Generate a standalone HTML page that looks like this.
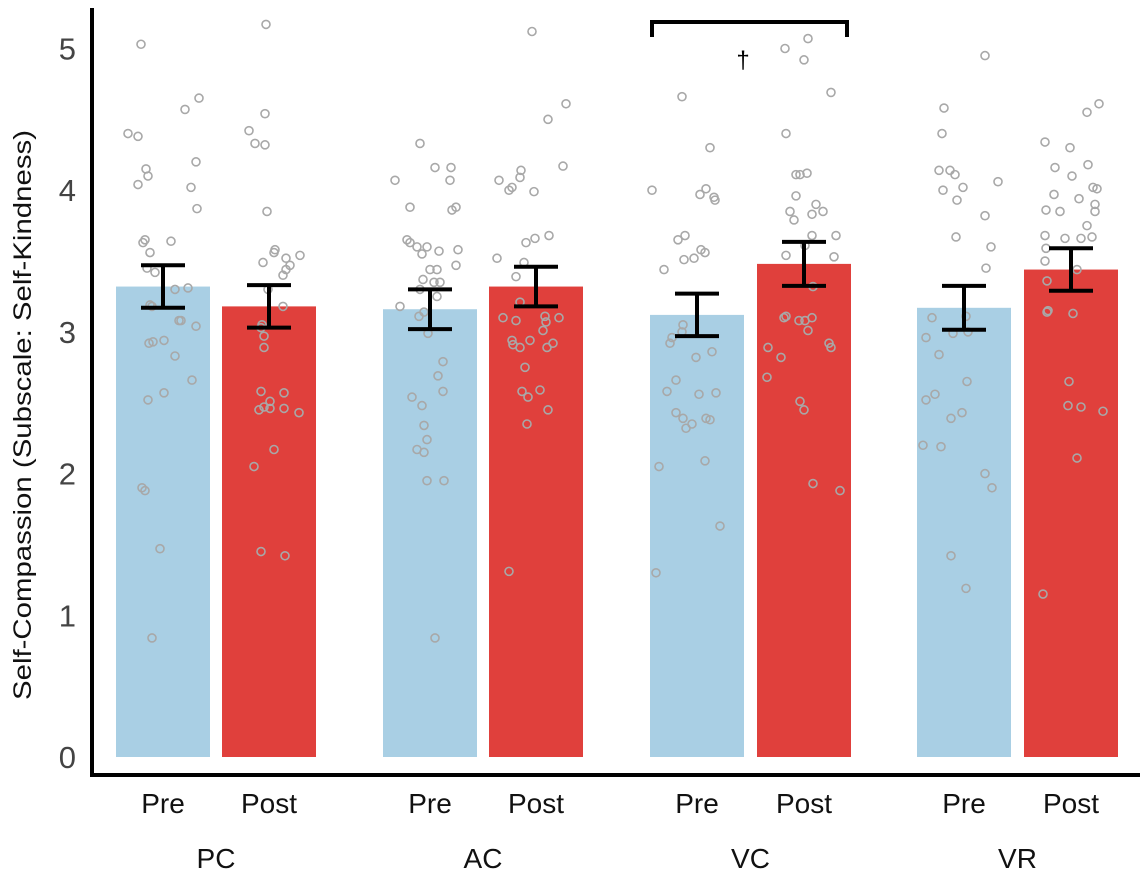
<!DOCTYPE html>
<html><head><meta charset="utf-8"><style>
html,body{margin:0;padding:0;background:#fff;}
svg{display:block;font-family:"Liberation Sans",sans-serif;}
</style></head><body>
<svg id="chart" width="1148" height="871" viewBox="0 0 1148 871"></svg>
<script>
const groups=["PC","AC","VC","VR"];
const phases=["Pre","Post"];
const means=[3.32,3.18,3.16,3.32,3.12,3.48,3.17,3.44];
const errs=[0.15,0.15,0.14,0.14,0.15,0.155,0.155,0.15];
const yTicks=[0,1,2,3,4,5];
const pts=[
[5.03,4.40,4.38,4.15,4.10,4.04,4.57,4.65,4.20,4.02,3.87,3.63,3.65,3.64,3.56,3.45,3.42,3.31,3.30,3.19,3.18,3.08,3.08,3.04,2.93,2.94,2.92,2.83,2.66,2.57,2.52,1.90,1.88,1.47,0.84],
[5.17,4.42,4.33,4.32,4.54,3.85,3.54,3.58,3.56,3.49,3.52,3.47,3.44,3.40,3.30,3.18,3.05,3.03,2.97,2.89,2.58,2.57,2.51,2.47,2.46,2.46,2.45,2.43,2.17,2.05,1.45,1.42],
[4.33,4.07,3.88,4.16,4.16,4.07,3.88,3.86,3.65,3.63,3.60,3.60,3.55,3.57,3.58,3.47,3.44,3.44,3.37,3.35,3.35,3.30,3.25,3.18,3.14,3.11,2.99,2.79,2.69,2.58,2.54,2.48,2.34,2.24,2.17,2.15,1.95,1.95,0.84],
[5.12,4.61,4.50,4.17,4.14,4.07,4.09,4.00,3.99,4.02,3.66,3.68,3.63,3.52,3.49,3.39,3.21,3.10,3.11,3.10,3.07,3.08,3.01,2.94,2.91,2.94,2.92,2.89,2.89,2.75,2.59,2.58,2.54,2.45,2.35,1.31],
[4.00,4.66,4.30,3.97,4.01,3.95,3.93,3.68,3.65,3.44,3.58,3.56,3.51,3.52,3.05,3.00,2.96,2.92,2.86,2.82,2.66,2.58,2.57,2.56,2.43,2.39,2.39,2.32,2.35,2.38,2.09,2.05,1.63,1.30],
[5.00,5.07,4.92,4.69,4.40,3.96,4.11,4.12,4.11,3.90,3.85,3.83,3.85,3.61,3.79,3.68,3.68,3.53,3.54,3.32,3.11,3.10,3.08,3.08,3.10,3.01,2.92,2.89,2.89,2.82,2.68,2.51,2.45,1.93,1.88],
[4.95,4.58,4.40,4.14,4.14,4.11,4.02,4.00,4.06,3.93,3.82,3.67,3.60,3.45,3.10,2.99,3.00,2.96,3.11,2.84,2.65,2.56,2.52,2.43,2.39,2.20,2.19,2.00,1.90,1.42,1.19],
[4.61,4.55,4.34,4.30,4.16,4.18,4.10,4.02,4.01,3.97,3.94,3.90,3.86,3.85,3.85,3.75,3.67,3.66,3.66,3.68,3.59,3.44,3.50,3.36,3.15,3.14,3.13,2.65,2.48,2.47,2.44,2.11,1.15]
];
const jit=[
[25,12,22,30,32,22,69,83,80,75,81,27,29,55,34,31,39,72,59,34,36,63,65,80,37,48,33,59,76,48,32,26,29,44,36],
[44,27,33,43,43,45,78,53,52,41,64,68,64,61,46,61,40,39,42,42,39,62,48,42,48,62,37,77,52,32,39,63],
[37,12,27,52,68,67,73,69,24,27,44,34,39,56,75,73,47,54,40,51,57,37,54,17,41,36,45,60,55,60,29,39,41,44,34,41,44,61,52],
[43,77,59,74,32,10,31,20,45,23,46,60,37,8,35,27,31,14,56,70,57,27,54,23,24,41,64,58,31,36,51,33,39,59,38,20],
[2,32,60,50,56,64,65,35,28,14,51,55,34,44,33,32,22,20,62,46,26,17,66,49,26,33,56,36,42,60,55,9,70,6],
[28,51,47,74,29,39,39,50,43,59,33,55,66,48,37,55,79,77,29,56,29,27,42,48,55,51,72,74,11,24,10,43,47,56,83],
[68,27,25,22,33,38,46,26,81,40,68,39,74,69,15,36,51,9,49,22,50,18,9,45,34,6,24,68,75,34,49],
[75,63,21,46,31,64,48,69,73,30,55,71,22,36,71,63,68,41,57,21,22,53,21,23,24,23,49,45,44,57,79,53,19]
];
const NS="http://www.w3.org/2000/svg";
const svg=document.getElementById('chart');
function mk(t,a,p){const e=document.createElementNS(NS,t);for(const k in a)e.setAttribute(k,a[k]);(p||svg).appendChild(e);return e;}
const Y0=757,PX=141.7;
function yS(v){return Y0-v*PX;}
const barL=[116,222,383,489,650,757,917,1024],BW=94;
function xS(i){return barL[i];}
for(let i=0;i<means.length;i++){
  const b=mk('rect',{x:xS(i),y:yS(means[i]),width:BW,height:Y0-yS(means[i]),fill:i%2?'#e0403c':'#a9cfe4'});
  
  
}
for(let i=0;i<pts.length;i++){
  for(let j=0;j<pts[i].length;j++){
    const c=mk('circle',{cx:xS(i)+jit[i][j],cy:yS(pts[i][j]),r:4,fill:'none',stroke:'#a8a8a8','stroke-width':1.6});
    
    
  }
}
for(let i=0;i<means.length;i++){
  const g=mk('g',{stroke:'#000','stroke-width':4,fill:'none'});
  
  
  const cx=xS(i)+BW/2,t=yS(means[i]+errs[i]),b=yS(means[i]-errs[i]);
  mk('line',{x1:cx,x2:cx,y1:t,y2:b},g);
  mk('line',{x1:cx-22,x2:cx+22,y1:t,y2:t},g);
  mk('line',{x1:cx-22,x2:cx+22,y1:b,y2:b},g);
}
const ax=mk('path',{d:'M92,8 V775 H1140',stroke:'#000','stroke-width':4,fill:'none'});


for(const v of yTicks){
  const t=mk('text',{x:76,y:yS(v)+11,'text-anchor':'end','font-size':31,fill:'#444'});
  t.textContent=v;
  
  
}
const yt=mk('text',{x:31,y:415,'text-anchor':'middle','font-size':25,fill:'#111',textLength:570,lengthAdjust:'spacingAndGlyphs',transform:'rotate(-90 31 415)'});
yt.textContent='Self-Compassion (Subscale: Self-Kindness)';


for(let i=0;i<means.length;i++){
  const t=mk('text',{x:xS(i)+BW/2,y:813,'text-anchor':'middle','font-size':28,fill:'#111'});
  t.textContent=phases[i%2];
  
  
}
for(let g=0;g<groups.length;g++){
  const t=mk('text',{x:(xS(2*g)+xS(2*g+1)+BW)/2,y:868,'text-anchor':'middle','font-size':28,fill:'#111'});
  t.textContent=groups[g];
  
  
}
const br=mk('path',{d:'M652,37 V22 H847 V37',stroke:'#000','stroke-width':4,fill:'none'});


const dg=mk('text',{x:743,y:68,'text-anchor':'middle','font-size':24,fill:'#000'});
dg.textContent='†';


</script>
</body></html>
